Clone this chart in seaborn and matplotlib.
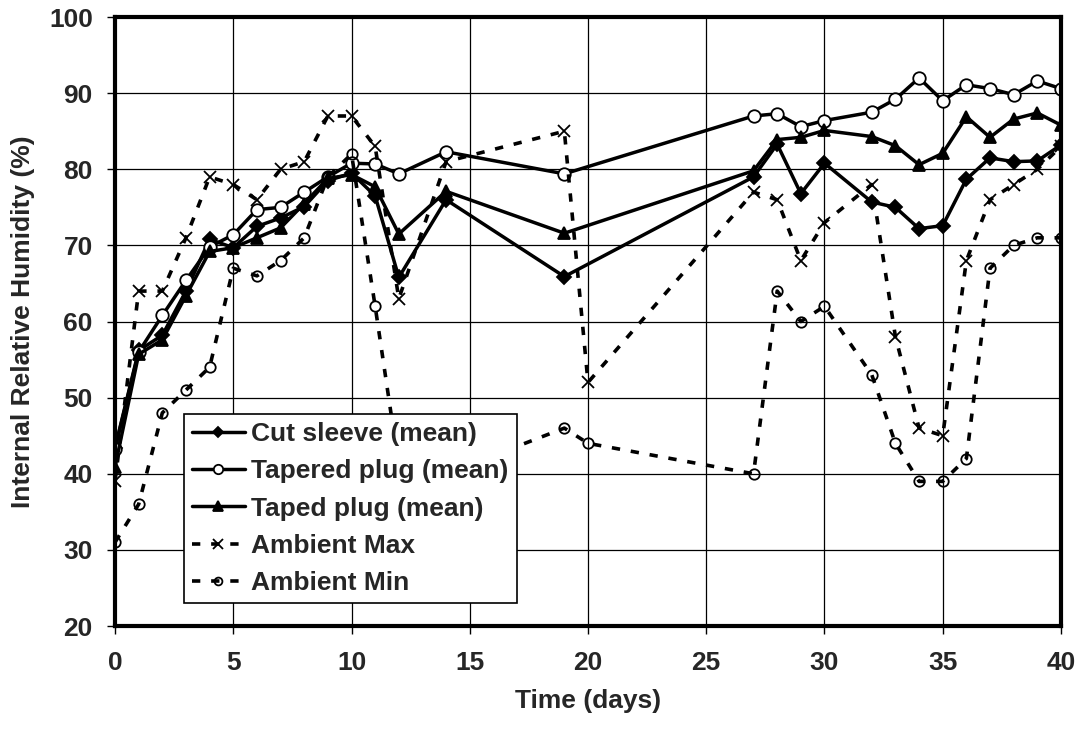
import numpy as np
import pandas as pd
import matplotlib
matplotlib.use("Agg")
import matplotlib.pyplot as plt
import seaborn as sns

# Days on which the enclosures were measured
days_mean = [0, 1, 2, 3, 4, 5, 6, 7, 8, 9, 10, 11, 12, 14, 19,
             27, 28, 29, 30, 32, 33, 34, 35, 36, 37, 38, 39, 40]
cut_sleeve = [43.4, 56.2, 58.2, 64.0, 70.8, 69.7, 72.5, 73.6, 75.1, 78.5, 79.5, 76.5, 65.8, 76.0, 65.9,
              79.0, 83.3, 76.8, 80.8, 75.7, 75.0, 72.2, 72.6, 78.7, 81.5, 81.0, 81.1, 83.2]
tapered_plug = [43.3, 56.0, 60.8, 65.4, 69.8, 71.4, 74.7, 75.0, 77.0, 79.0, 80.8, 80.7, 79.4, 82.3, 79.4,
                87.0, 87.3, 85.6, 86.4, 87.5, 89.2, 92.0, 89.0, 91.1, 90.6, 89.8, 91.6, 90.6]
taped_plug = [40.9, 55.7, 57.6, 63.4, 69.2, 69.7, 71.0, 72.3, 75.5, 78.8, 79.3, 77.7, 71.5, 77.1, 71.6,
              79.8, 83.9, 84.2, 85.1, 84.3, 83.1, 80.6, 82.1, 86.9, 84.2, 86.6, 87.4, 85.8]

# Ambient readings
days_amb = [0, 1, 2, 3, 4, 5, 6, 7, 8, 9, 10, 11, 12, 14, 19, 20,
            27, 28, 29, 30, 32, 33, 34, 35, 36, 37, 38, 39, 40]
ambient_max = [39, 64, 64, 71, 79, 78, 76, 80, 81, 87, 87, 83, 63, 81, 85, 52,
               77, 76, 68, 73, 78, 58, 46, 45, 68, 76, 78, 80, 83]
ambient_min = [31, 36, 48, 51, 54, 67, 66, 68, 71, 79, 82, 62, 41, 40, 46, 44,
               40, 64, 60, 62, 53, 44, 39, 39, 42, 67, 70, 71, 71]

x_ticks = list(range(0, 41, 5))
y_ticks = list(range(20, 101, 10))

sns.set_theme(style="white")
plt.rcParams["font.family"] = ["Liberation Sans", "DejaVu Sans"]
plt.rcParams["font.weight"] = "bold"

fig = plt.figure(figsize=(10.78, 7.31), dpi=100)
ax = fig.add_axes([0.1067, 0.1436, 0.8775, 0.8331])

dash = (0, (2.3, 3.0))
series = [
    ("Cut sleeve (mean)", days_mean, cut_sleeve,
     dict(marker="D", markersize=7, markerfacecolor="black", linestyle="-", lw=2.5)),
    ("Tapered plug (mean)", days_mean, tapered_plug,
     dict(marker="o", markersize=9, markerfacecolor="white", linestyle="-", lw=2.5)),
    ("Taped plug (mean)", days_mean, taped_plug,
     dict(marker="^", markersize=9, markerfacecolor="black", linestyle="-", lw=2.5)),
    ("Ambient Max", days_amb, ambient_max,
     dict(marker="x", markersize=9, linestyle=dash, lw=2.6)),
    ("Ambient Min", days_amb, ambient_min,
     dict(marker="o", markersize=7.5, markerfacecolor="none", linestyle=dash, lw=2.6)),
]

for name, xs, ys, style in series:
    sns.lineplot(x=xs, y=ys, ax=ax, color="black", label=name, errorbar=None,
                 markeredgecolor="black", markeredgewidth=1.3, **style)

ax.set_xlim(0, 40)
ax.set_ylim(20, 100)
ax.set_xticks(x_ticks)
ax.set_yticks(y_ticks)
ax.grid(True, color="black", lw=0.9)
for s in ax.spines.values():
    s.set_visible(True)
    s.set_color("black")
    s.set_linewidth(3)
    s.set_zorder(5)
ax.tick_params(axis="both", which="both", bottom=True, left=True, direction="out",
               length=6, width=1, color="black", labelsize=19)
ax.tick_params(axis="x", pad=12)
ax.tick_params(axis="y", pad=10)
for lab in ax.get_xticklabels() + ax.get_yticklabels():
    lab.set_fontweight("bold")

ax.set_xlabel("Time (days)", fontsize=19, fontweight="bold", labelpad=10)
ax.set_ylabel("Internal Relative Humidity (%)", fontsize=19, fontweight="bold", labelpad=10)

leg = ax.legend(loc="lower left", bbox_to_anchor=(0.073, 0.038), fontsize=19,
                frameon=True, fancybox=False, framealpha=1, edgecolor="black",
                handlelength=2.0, handletextpad=0.25, borderpad=0.3, labelspacing=0.5,
                borderaxespad=0, markerscale=0.75)
leg.get_frame().set_linewidth(1.2)
for t in leg.get_texts():
    t.set_fontweight("bold")

fig.savefig("out.png", dpi=100)
